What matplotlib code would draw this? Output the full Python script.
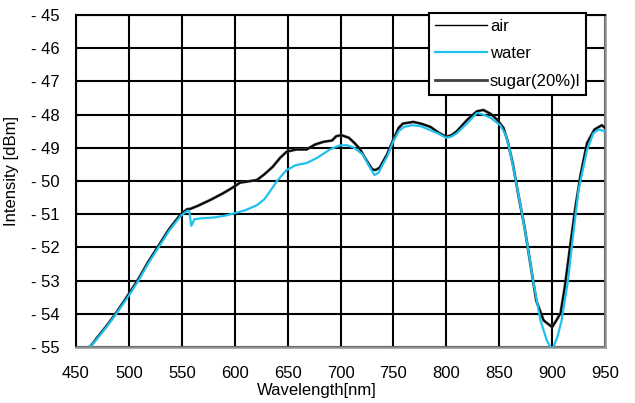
import matplotlib
matplotlib.use('Agg')
import matplotlib.pyplot as plt

plt.rcParams['font.family'] = ['Liberation Sans', 'DejaVu Sans']

# wavelength [nm] / intensity [dBm]
air_nm = [462, 470, 480, 488, 500, 509, 518, 528, 538, 549, 555, 558, 565, 577,
          589, 598, 605, 615, 621, 628, 636, 643, 649, 658, 668, 676, 684, 692,
          696, 701, 708, 713, 718, 724, 730, 733, 737, 744, 750, 755, 759, 769,
          777, 785, 793, 800, 805, 810, 820, 829, 835, 842, 848, 854, 858, 863,
          868, 874, 880, 885, 892, 896, 900, 904, 908, 912, 917, 922, 927, 933,
          940, 947, 950]
air_dbm = [-55.05, -54.72, -54.32, -53.97, -53.4, -52.95, -52.45, -51.95, -51.45,
           -51.0, -50.85, -50.84, -50.75, -50.57, -50.37, -50.2, -50.05, -50.0,
           -49.97, -49.8, -49.57, -49.3, -49.12, -49.05, -49.05, -48.9, -48.82,
           -48.78, -48.65, -48.62, -48.7, -48.85, -49.02, -49.35, -49.65, -49.67,
           -49.6, -49.2, -48.75, -48.4, -48.27, -48.22, -48.28, -48.37, -48.55,
           -48.67, -48.62, -48.5, -48.15, -47.9, -47.86, -47.98, -48.15, -48.4,
           -48.8, -49.5, -50.4, -51.4, -52.6, -53.6, -54.2, -54.3, -54.4, -54.2,
           -53.98, -53.19, -51.98, -50.8, -49.8, -48.86, -48.45, -48.32, -48.4]

water_nm = [462, 470, 480, 488, 500, 509, 518, 528, 538, 549, 555, 557, 559, 562,
            570, 580, 590, 600, 610, 621, 628, 633, 640, 649, 658, 668, 678, 690,
            699, 706, 713, 721, 727, 732, 736, 740, 744, 750, 755, 760, 768, 776,
            785, 793, 800, 805, 810, 820, 829, 835, 842, 851, 856, 860, 865, 871,
            876, 882, 889, 895, 900, 905, 909, 915, 920, 925, 933, 939, 944, 950]
water_dbm = [-55.05, -54.75, -54.35, -54.0, -53.45, -53.0, -52.5, -52.0, -51.5,
             -51.05, -50.9, -50.9, -51.35, -51.15, -51.12, -51.1, -51.05, -50.97,
             -50.88, -50.73, -50.55, -50.33, -50.0, -49.67, -49.52, -49.46, -49.3,
             -49.05, -48.93, -48.92, -49.0, -49.2, -49.55, -49.82, -49.75, -49.5,
             -49.27, -48.8, -48.5, -48.37, -48.32, -48.35, -48.47, -48.58, -48.7,
             -48.66, -48.56, -48.25, -47.95, -48.0, -48.1, -48.32, -48.6, -49.07,
             -49.87, -50.88, -51.8, -52.99, -54.2, -54.8, -55.1, -54.7, -54.2,
             -53.0, -51.6, -50.27, -49.07, -48.56, -48.45, -48.5]

# the sugar trace sits under the air trace in the picture
sugar_nm = list(air_nm)
sugar_dbm = list(air_dbm)

x_ticks = list(range(450, 951, 50))
y_ticks = list(range(-55, -44))

fig = plt.figure(figsize=(6.35, 4.03), dpi=100)
ax = fig.add_axes([76 / 635, 1 - 347 / 403, 529 / 635, 332 / 403])

ax.plot(sugar_nm, sugar_dbm, color='#404040', lw=2.0, label='sugar(20%)l', zorder=3)
ax.plot(air_nm, air_dbm, color='black', lw=1.0, label='air', zorder=4)
ax.plot(water_nm, water_dbm, color='#1fc0ee', lw=1.6, label='water', zorder=5)

ax.set_xlim(450, 950)
ax.set_ylim(-55, -45)
ax.set_xticks(x_ticks)
ax.set_yticks(y_ticks)
ax.set_yticklabels(['- %d' % abs(v) for v in y_ticks])
ax.tick_params(axis='both', length=0, labelsize=12)
ax.tick_params(axis='x', pad=14)
ax.tick_params(axis='y', pad=12)
ax.grid(True, color='black', lw=1.5)
ax.set_axisbelow(True)

for s in ['left', 'top']:
    ax.spines[s].set_color('black')
    ax.spines[s].set_linewidth(1.5)
for s in ['right', 'bottom']:
    ax.spines[s].set_color('#909090')
    ax.spines[s].set_linewidth(1.8)

ax.set_xlabel('Wavelength[nm]', fontsize=12)
ax.xaxis.set_label_coords(0.455, -0.108)
ax.set_ylabel('Intensity [dBm]', fontsize=12)
ax.yaxis.set_label_coords(-0.108, 0.53)

handles, labels = ax.get_legend_handles_labels()
order = [1, 2, 0]
leg = ax.legend([handles[i] for i in order], [labels[i] for i in order],
                loc='upper left', bbox_to_anchor=(429 / 635, 1 - 13 / 403),
                bbox_transform=fig.transFigure, fontsize=12, handlelength=3.1,
                handletextpad=0.2, borderpad=0.35, labelspacing=0.75,
                fancybox=False, framealpha=1, borderaxespad=0)
leg.get_frame().set_edgecolor('black')
leg.get_frame().set_linewidth(1.5)
leg.set_zorder(10)

plt.savefig('out.png', dpi=100)
